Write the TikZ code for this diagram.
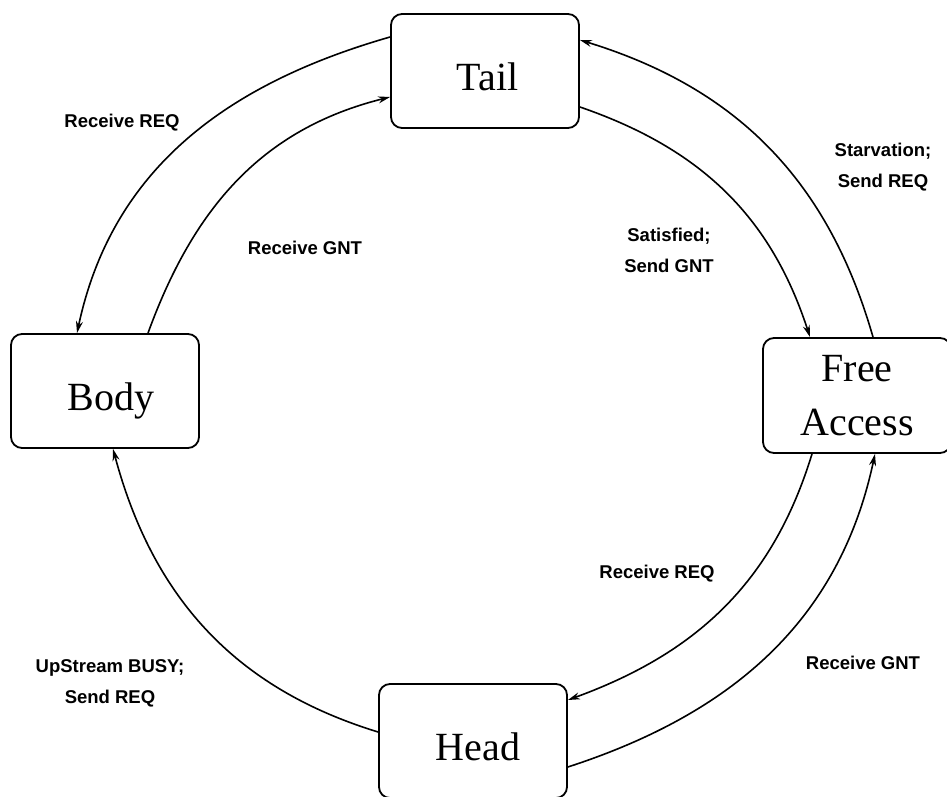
\documentclass[tikz,border=0pt]{standalone}
\usepackage{fontspec}
\setmainfont{Liberation Serif}
\newfontfamily\lblfont{Liberation Sans}
\usetikzlibrary{arrows.meta}
\begin{document}
\begin{tikzpicture}[x=1pt,y=1pt,
  state/.style={draw,line width=1.8pt,rounded corners=11pt,minimum width=188pt,minimum height=114pt,
    font=\fontsize{40}{46}\selectfont,align=center,inner sep=0pt,text height=39pt,text depth=0pt},
  arr/.style={line width=1.6pt,-{Stealth[length=12pt,width=7pt]}},
  lbl/.style={font=\lblfont\bfseries\fontsize{18.5}{31}\selectfont,align=center,inner sep=0pt}]
\useasboundingbox (0,0) rectangle (947,797);
\node[state] (tail) at (485,726) {\hspace*{5pt}Tail};
\node[state] (body) at (105,406) {\hspace*{12pt}Body};
\node[state,minimum height=115pt,text height=,text depth=] (fa) at (857,401.5) {Free\\[8pt]Access};
\node[state] (head) at (473,56) {\hspace*{10pt}Head};
% connectors
\draw[arr] (tail.west |- 0,760) to[out=196,in=78] (body.north -| 77,0);
\draw[arr] (body.north -| 148,0) to[out=70,in=194] (tail.west |- 0,700);
\draw[arr] (fa.north -| 873,0) to[out=106,in=-17] (tail.east |- 0,757);
\draw[arr] (tail.east |- 0,690) to[out=-19,in=108] (fa.north -| 810,0);
\draw[arr] (head.east |- 0,30) to[out=18,in=258] (fa.south -| 875,0);
\draw[arr] (fa.south -| 812,0) to[out=253,in=20] (head.east |- 0,97);
\draw[arr] (head.west |- 0,65) to[out=163,in=285] (body.south -| 113,0);
% labels
\node[lbl] (l1) at (122,674) {Receive REQ};
\node[lbl] (l2) at (305,549) {Receive GNT};
\node[lbl] (l3) at (669,547) {Satisfied;\\Send GNT};
\node[lbl] (l4) at (883,630) {Starvation;\\Send REQ};
\node[lbl] (l5) at (657,223) {Receive REQ};
\node[lbl] (l6) at (863,134) {Receive GNT};
\node[lbl] (l7) at (110,114) {UpStream BUSY;\\Send REQ};
\end{tikzpicture}
\end{document}
